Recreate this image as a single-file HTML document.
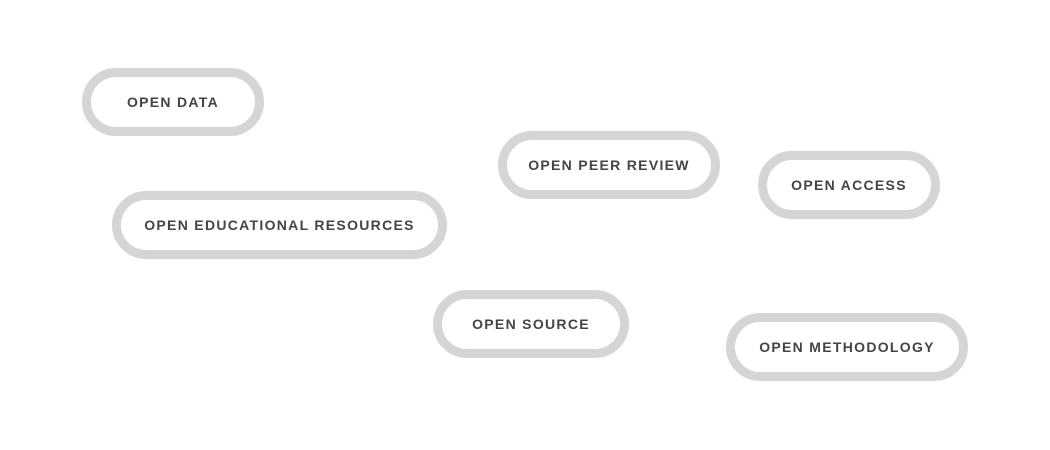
<!DOCTYPE html>
<html><head><meta charset="utf-8"><style>
body{margin:0;width:1050px;height:450px;background:#fff;position:relative;overflow:hidden}
.p{position:absolute;box-sizing:border-box;border:9px solid #d5d5d5;border-radius:40px;height:68px;display:flex;align-items:center;justify-content:center;font-family:"Liberation Sans",sans-serif;font-weight:bold;font-size:14px;letter-spacing:1.3px;color:#444;white-space:nowrap}
</style></head><body>
<div class="p" style="left:82px;top:68px;width:182px">OPEN DATA</div>
<div class="p" style="left:498px;top:131px;width:222px">OPEN PEER REVIEW</div>
<div class="p" style="left:758px;top:151px;width:182px">OPEN ACCESS</div>
<div class="p" style="left:112px;top:191px;width:335px">OPEN EDUCATIONAL RESOURCES</div>
<div class="p" style="left:433px;top:290px;width:196px">OPEN SOURCE</div>
<div class="p" style="left:726px;top:313px;width:242px">OPEN METHODOLOGY</div>
</body></html>
